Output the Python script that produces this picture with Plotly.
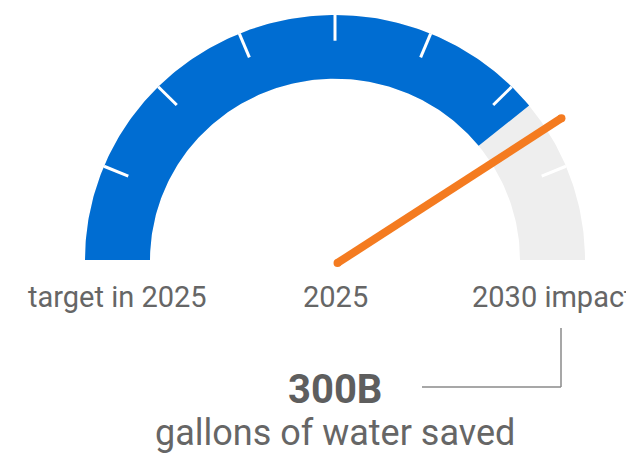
import numpy as np
import plotly.graph_objects as go

# ---- data ----
gauge_min = 0
gauge_max = 100
progress_value = 78.3      # blue filled part
needle_value = 81.9        # orange needle
tick_values = [12.5, 25, 37.5, 50, 62.5, 75, 87.5]
axis_labels = ["target in 2025", "2025", "2030 impact"]
headline_value = "300B"
headline_caption = "gallons of water saved"

# ---- styles ----
BLUE = "#006dd2"
GRAY = "#eeeeee"
ORANGE = "#f47b20"
TEXT = "#666666"
R_OUT, R_IN = 1.0, 0.74
R_MID = (R_OUT + R_IN) / 2
FONT = "Roboto"

# page body has an 8px margin, so the figure is 8px smaller than the window
W, H = 626, 446
CX, CY = 327, 252          # gauge centre in figure pixels
SX, SY = 250, 245          # pixels per radius unit


def ang(v):
    return np.pi * (1 - (v - gauge_min) / (gauge_max - gauge_min))


def band(v0, v1, n=200):
    t = np.linspace(ang(v0), ang(v1), n)
    xo, yo = R_OUT * np.cos(t), R_OUT * np.sin(t)
    xi, yi = R_IN * np.cos(t[::-1]), R_IN * np.sin(t[::-1])
    return np.concatenate([xo, xi, xo[:1]]), np.concatenate([yo, yi, yo[:1]])


fig = go.Figure()

x, y = band(gauge_min, gauge_max)
fig.add_trace(go.Scatter(x=x, y=y, fill="toself", fillcolor=GRAY, line=dict(width=0),
                         mode="lines", hoverinfo="skip"))
x, y = band(gauge_min, progress_value)
fig.add_trace(go.Scatter(x=x, y=y, fill="toself", fillcolor=BLUE, line=dict(width=0),
                         mode="lines", hoverinfo="skip"))

for tv in tick_values:
    a = ang(tv)
    fig.add_trace(go.Scatter(x=[R_OUT * np.cos(a), (R_OUT - 0.105) * np.cos(a)],
                             y=[R_OUT * np.sin(a), (R_OUT - 0.105) * np.sin(a)],
                             mode="lines", line=dict(color="white", width=3), hoverinfo="skip"))

a = ang(needle_value)
nx = [0.012 * np.cos(a), 1.075 * np.cos(a)]
ny = [-0.012, 1.075 * np.sin(a)]
fig.add_trace(go.Scatter(x=nx, y=ny, mode="lines+markers",
                         line=dict(color=ORANGE, width=8),
                         marker=dict(color=ORANGE, size=8, line=dict(width=0)),
                         hoverinfo="skip"))

label_y = -0.151
label_x = [-R_MID, 0, R_MID]
for lx, lt in zip(label_x, axis_labels):
    fig.add_annotation(x=lx, y=label_y, text=lt, showarrow=False,
                       font=dict(family=FONT, size=29, color=TEXT),
                       xanchor="center", yanchor="middle")

fig.add_annotation(x=0, y=-0.529, text=f"<b>{headline_value}</b>", showarrow=False,
                   font=dict(family=FONT, size=40, color="#5e5e5e"),
                   xanchor="center", yanchor="middle")
fig.add_annotation(x=0, y=-0.706, text=headline_caption, showarrow=False,
                   font=dict(family=FONT, size=36, color=TEXT),
                   xanchor="center", yanchor="middle")

# leader line from headline to "2030 impact"
lead_x = 0.904
fig.add_shape(type="line", x0=lead_x, x1=lead_x, y0=-0.278, y1=-0.518,
              line=dict(color="#8a8a8a", width=1.5))
fig.add_shape(type="line", x0=0.348, x1=lead_x, y0=-0.518, y1=-0.518,
              line=dict(color="#8a8a8a", width=1.5))

fig.update_layout(
    width=W, height=H,
    margin=dict(l=0, r=0, t=0, b=0),
    paper_bgcolor="white", plot_bgcolor="white",
    showlegend=False,
    xaxis=dict(range=[-CX / SX, (W - CX) / SX], visible=False, fixedrange=True),
    yaxis=dict(range=[-(H - CY) / SY, CY / SY], visible=False, fixedrange=True),
)

fig.write_html("out.html")
